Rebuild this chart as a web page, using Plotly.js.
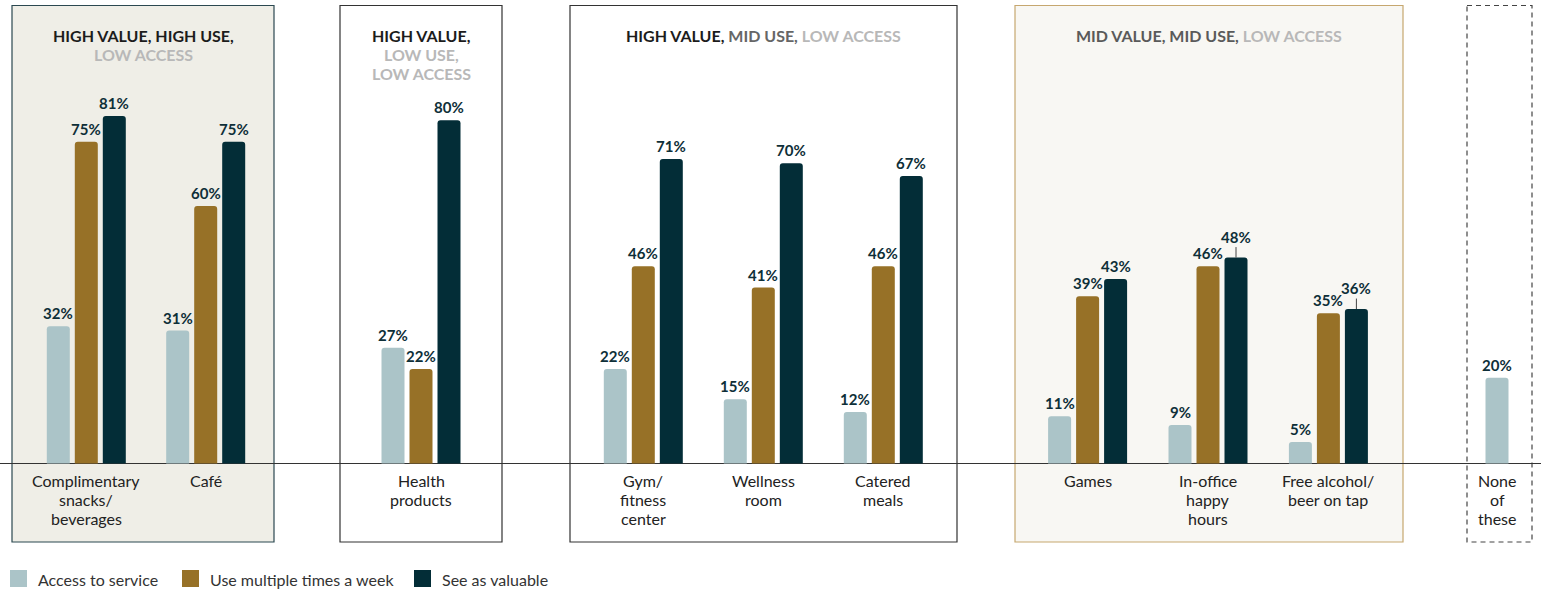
<!DOCTYPE html>
<html>
<head>
<meta charset="utf-8">
<script src="https://cdn.plot.ly/plotly-3.0.1.min.js"></script>
<style>html,body{margin:0;padding:0;background:#fff;}#chart{width:1541px;height:592px;}</style>
</head>
<body>
<div id="chart"></div>
<script>
// ---------- data ----------
const categories = [
  'Complimentary<br>snacks/<br>beverages', 'Café', 'Health<br>products',
  'Gym/<br>fitness<br>center', 'Wellness<br>room', 'Catered<br>meals',
  'Games', 'In-office<br>happy<br>hours', 'Free alcohol/<br>beer on tap', 'None<br>of<br>these'
];
const seriesNames = ['Access to service', 'Use multiple times a week', 'See as valuable'];
const accessValues   = [32, 31, 27, 22, 15, 12, 11, 9, 5, 20];
const useValues      = [75, 60, 22, 46, 41, 46, 39, 46, 35, null];
const valuableValues = [81, 75, 80, 71, 70, 67, 43, 48, 36, null];
const groupTitles = [
  '<span style="color:#1c1c1c">HIGH VALUE, HIGH USE,</span><br><span style="color:#b8b8b8">LOW ACCESS</span>',
  '<span style="color:#1c1c1c">HIGH VALUE,</span><br><span style="color:#b8b8b8">LOW USE,</span><br><span style="color:#b8b8b8">LOW ACCESS</span>',
  '<span style="color:#1c1c1c">HIGH VALUE,</span> <span style="color:#666666">MID USE,</span> <span style="color:#b8b8b8">LOW ACCESS</span>',
  '<span style="color:#5a5a5a">MID VALUE, MID USE,</span> <span style="color:#b8b8b8">LOW ACCESS</span>',
  ''
];

// ---------- layout constants ----------
const W = 1541, H = 592;
const BASE_PX = 463.5, PX_PER_UNIT = 4.29;
const Y = p => (BASE_PX - p) / PX_PER_UNIT;      // pixel row -> value units
const catCenters = [86.3, 205.7, 421, 643.3, 763.3, 883.3, 1087.6, 1208, 1328.4, 1497];
const BAR_W = 23, BAR_STEP = 28;
const colors = ['#abc4c8', '#977127', '#032d37'];
const boxes = [
  {x0: 12,   x1: 274,  fill: '#efeee7', line: '#2b4850', dash: 'solid'},
  {x0: 340,  x1: 502,  fill: 'rgba(0,0,0,0)', line: '#333333', dash: 'solid'},
  {x0: 570,  x1: 957,  fill: 'rgba(0,0,0,0)', line: '#333333', dash: 'solid'},
  {x0: 1015, x1: 1403, fill: '#f8f7f3', line: '#c6a76f', dash: 'solid'},
  {x0: 1467, x1: 1532, fill: 'rgba(0,0,0,0)', line: '#444444', dash: '5px,4px'}
];
const BOX_TOP = 5.5, BOX_BOTTOM = 542;
const FONT = 'Lato, "Open Sans", sans-serif';
const LINE_H = 19.2;

const series = [accessValues, useValues, valuableValues];

// bar x positions: present bars of a category are centred on it
function barX(si, ci) {
  const present = series.map(s => s[ci] != null);
  const n = present.filter(Boolean).length;
  const idx = present.slice(0, si).filter(Boolean).length;
  return catCenters[ci] + (idx - (n - 1) / 2) * BAR_STEP;
}

const traces = series.map((vals, si) => ({
  type: 'bar',
  name: seriesNames[si],
  x: vals.map((v, ci) => v == null ? null : barX(si, ci)),
  y: vals,
  width: BAR_W,
  marker: {color: colors[si], cornerradius: 3, line: {width: 0}},
  hoverinfo: 'name+y',
  showlegend: false
}));

const annotations = [];
// value labels
series.forEach((vals, si) => {
  vals.forEach((v, ci) => {
    if (v == null) return;
    const prev = si > 0 ? series[si - 1][ci] : null;
    const crowded = prev != null && v >= prev && v - prev < 3;
    const a = {
      x: barX(si, ci), y: v, xref: 'x', yref: 'y',
      text: v + '%',
      font: {family: FONT, size: 15, color: '#0e2f38', weight: 700},
      showarrow: false, yanchor: 'middle', xanchor: 'center', yshift: 13
    };
    if (crowded) {
      Object.assign(a, {showarrow: true, ax: 0, ay: -21, arrowhead: 0, arrowwidth: 1,
        arrowcolor: '#444', standoff: 0, yshift: 0});
      delete a.yanchor; delete a.xanchor;
    }
    annotations.push(a);
  });
});

// multi-line text placed line by line with a fixed line height
function addLines(text, x, firstCenterPx, font, bold) {
  text.split('<br>').forEach((line, i) => annotations.push({
    x: x, y: Y(firstCenterPx + i * LINE_H), xref: 'x', yref: 'y',
    text: bold ? '<b>' + line + '</b>' : line,
    showarrow: false, xanchor: 'center', yanchor: 'middle', align: 'center', font: font
  }));
}
// category labels
categories.forEach((c, ci) => addLines(c, catCenters[ci], 480,
  {family: FONT, size: 16, color: '#222222'}, false));
// group titles
boxes.forEach((b, bi) => {
  if (!groupTitles[bi]) return;
  addLines(groupTitles[bi], (b.x0 + b.x1) / 2, 35.5, {family: FONT, size: 16, color: '#1c1c1c'}, true);
});
// legend
const legendX = [10, 182, 414];
const shapes = [];
boxes.forEach(b => shapes.push({
  type: 'rect', xref: 'x', yref: 'y', layer: 'below',
  x0: b.x0, x1: b.x1, y0: Y(BOX_TOP), y1: Y(BOX_BOTTOM),
  fillcolor: b.fill, line: {color: b.line, width: 1.2, dash: b.dash}
}));
seriesNames.forEach((n, si) => {
  shapes.push({type: 'rect', xref: 'x', yref: 'y', x0: legendX[si], x1: legendX[si] + 17,
    y0: Y(570), y1: Y(587), fillcolor: colors[si], line: {width: 0}});
  annotations.push({x: legendX[si] + 26, y: Y(579), xref: 'x', yref: 'y', text: n,
    showarrow: false, xanchor: 'left', yanchor: 'middle',
    font: {family: FONT, size: 16, color: '#333333'}});
});

const layout = {
  width: W, height: H,
  margin: {l: 0, r: 0, t: 0, b: 0, pad: 0},
  paper_bgcolor: '#ffffff', plot_bgcolor: 'rgba(0,0,0,0)',
  barmode: 'overlay',
  xaxis: {range: [0, W], showgrid: false, zeroline: false, showticklabels: false, ticks: '', fixedrange: true},
  yaxis: {range: [Y(H), Y(0)], showgrid: false, showticklabels: false, ticks: '',
    zeroline: true, zerolinecolor: '#333333', zerolinewidth: 1, fixedrange: true},
  shapes: shapes,
  annotations: annotations,
  font: {family: FONT}
};

Plotly.newPlot('chart', traces, layout, {displayModeBar: false, staticPlot: true});
</script>
</body>
</html>
